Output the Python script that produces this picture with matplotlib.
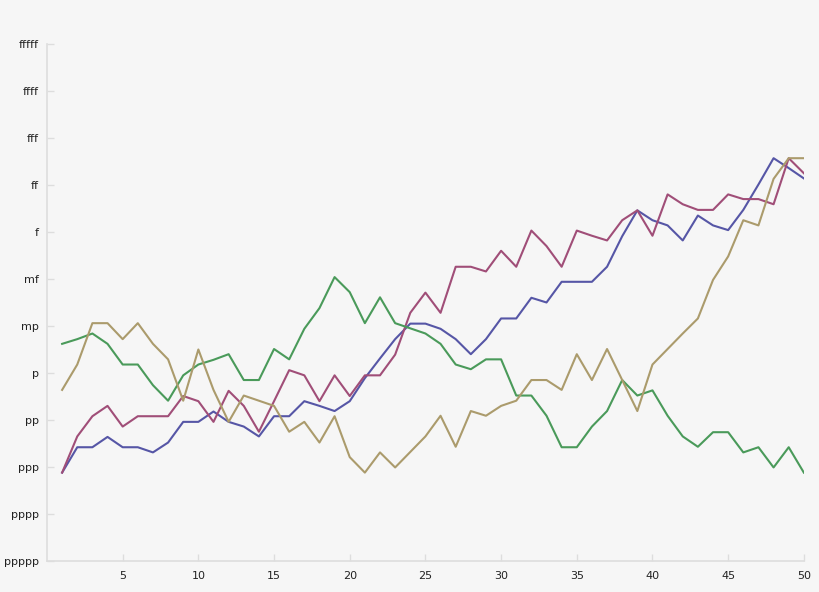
import matplotlib
matplotlib.use("Agg")
import matplotlib.pyplot as plt

levels = ["ppppp", "pppp", "ppp", "pp", "p", "mp", "mf", "f", "ff", "fff", "ffff", "fffff"]
steps = list(range(1, 51))

blue = [1.88, 2.42, 2.42, 2.64, 2.42, 2.42, 2.31, 2.52, 2.96, 2.96,
        3.18, 2.96, 2.86, 2.65, 3.08, 3.08, 3.40, 3.30, 3.19, 3.40,
        3.89, 4.31, 4.72, 5.05, 5.05, 4.94, 4.72, 4.40, 4.72, 5.16,
        5.16, 5.60, 5.50, 5.94, 5.94, 5.94, 6.26, 6.91, 7.46, 7.25,
        7.14, 6.82, 7.35, 7.14, 7.04, 7.47, 8.01, 8.57, 8.36, 8.14]
purple = [1.88, 2.65, 3.08, 3.30, 2.86, 3.08, 3.08, 3.08, 3.51, 3.40,
          2.96, 3.62, 3.30, 2.75, 3.40, 4.06, 3.95, 3.40, 3.95, 3.51,
          3.95, 3.95, 4.39, 5.28, 5.71, 5.28, 6.26, 6.26, 6.16, 6.60,
          6.26, 7.03, 6.70, 6.26, 7.03, 6.92, 6.82, 7.25, 7.46, 6.92,
          7.80, 7.59, 7.47, 7.47, 7.80, 7.70, 7.70, 7.59, 8.57, 8.25]
green = [4.62, 4.72, 4.84, 4.62, 4.18, 4.18, 3.74, 3.41, 3.95, 4.18,
         4.28, 4.40, 3.85, 3.85, 4.51, 4.29, 4.94, 5.38, 6.04, 5.72,
         5.06, 5.61, 5.06, 4.95, 4.84, 4.62, 4.18, 4.08, 4.29, 4.29,
         3.52, 3.52, 3.09, 2.42, 2.42, 2.86, 3.19, 3.85, 3.52, 3.63,
         3.09, 2.65, 2.43, 2.74, 2.74, 2.31, 2.42, 1.99, 2.42, 1.88]
tan = [3.64, 4.18, 5.06, 5.06, 4.72, 5.06, 4.62, 4.29, 3.41, 4.50,
       3.64, 2.96, 3.52, 3.41, 3.30, 2.75, 2.96, 2.52, 3.08, 2.21,
       1.88, 2.31, 1.99, 2.32, 2.65, 3.09, 2.43, 3.19, 3.09, 3.30,
       3.41, 3.85, 3.85, 3.64, 4.40, 3.85, 4.51, 3.85, 3.19, 4.18,
       4.51, 4.84, 5.16, 5.98, 6.48, 7.25, 7.14, 8.13, 8.57, 8.57]

bg = "#f6f6f6"
fig = plt.figure(figsize=(8.2, 5.92), dpi=100, facecolor=bg)
ax = fig.add_axes([0.0573, 0.0524, 0.9230, 0.8733], facecolor=bg)

ax.plot(steps, blue, color="#5656a6", lw=1.5)
ax.plot(steps, purple, color="#a04e78", lw=1.5)
ax.plot(steps, green, color="#4a9a5a", lw=1.5)
ax.plot(steps, tan, color="#ab9b6c", lw=1.5)

ax.set_xlim(0, 50)
ax.set_ylim(0, 11)
ax.set_xticks(range(5, 51, 5))
ax.set_yticks(range(len(levels)))
ax.set_yticklabels(levels)

for s in ["top", "right"]:
    ax.spines[s].set_visible(False)
for s in ["left", "bottom"]:
    ax.spines[s].set_color("#dddddd")
    ax.spines[s].set_linewidth(1.2)
ax.tick_params(direction="in", colors="#dddddd", labelcolor="#222222",
               labelsize=8, length=5, width=1)
ax.tick_params(axis="y", pad=6)
ax.tick_params(axis="x", pad=7)

fig.savefig("out.png", dpi=100, facecolor=bg)
